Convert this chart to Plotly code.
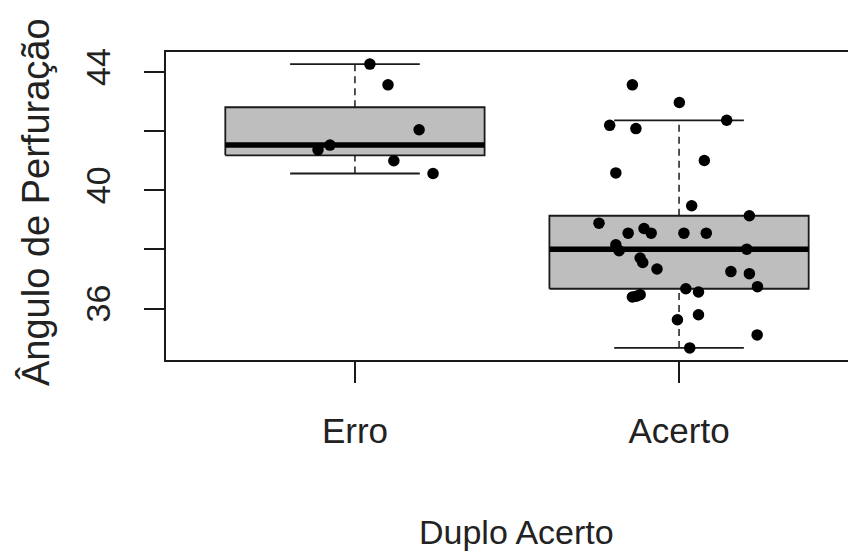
import math
import plotly.graph_objects as go

# ---- data ----
categories = ["Erro", "Acerto"]
erro_values = [44.27, 43.57, 42.05, 41.53, 41.37, 41.00, 40.57]
erro_jitter = [0.046, 0.102, 0.198, -0.077, -0.114, 0.120, 0.241]
acerto_values = [43.57, 42.97, 42.37, 42.20, 42.09, 41.01, 40.59, 39.48, 39.14,
                 38.89, 38.71, 38.55, 38.55, 38.55, 38.55, 38.16, 37.96, 38.01,
                 37.71, 37.56, 37.34, 37.25, 37.18, 36.74, 36.67, 36.56, 36.39,
                 36.47, 36.42, 35.62, 35.79, 35.11, 34.67]
acerto_jitter = [-0.144, 0.001, 0.147, -0.214, -0.133, 0.078, -0.195, 0.039, 0.217,
                 -0.247, -0.108, -0.086, -0.157, 0.015, 0.084, -0.195, -0.185, 0.209,
                 -0.120, -0.112, -0.068, 0.160, 0.217, 0.242, 0.021, 0.060, -0.144,
                 -0.120, -0.132, -0.005, 0.060, 0.241, 0.033]
y_tick_vals = [36, 38, 40, 42, 44]
y_tick_text = ["36", "", "40", "", "44"]
x_title = "Duplo Acerto"
y_title = "Ângulo de Perfuração"

groups = [erro_values, acerto_values]
jitters = [erro_jitter, acerto_jitter]


def fivenum(v):
    x = sorted(v)
    n = len(x)
    n4 = math.floor((n + 3) / 2) / 2
    d = [1, n4, (n + 1) / 2, n + 1 - n4, n]
    return [0.5 * (x[math.floor(di - 1)] + x[math.ceil(di - 1)]) for di in d]


LINE = "#1a1a1a"
BOXW = 0.8
fig = go.Figure()

for i, vals in enumerate(groups):
    p = i + 1
    mn, q1, med, q3, mx = fivenum(vals)
    iqr = q3 - q1
    lo = min(v for v in vals if v >= q1 - 1.5 * iqr)
    hi = max(v for v in vals if v <= q3 + 1.5 * iqr)
    h = BOXW / 2
    # whiskers (dashed)
    for a, b in [(q3, hi), (lo, q1)]:
        fig.add_trace(go.Scatter(x=[p, p], y=[a, b], mode="lines",
                                 line=dict(color=LINE, width=1.5, dash="7px,5px"),
                                 hoverinfo="skip", showlegend=False))
    # staples
    for yv in [hi, lo]:
        fig.add_trace(go.Scatter(x=[p - h / 2, p + h / 2], y=[yv, yv], mode="lines",
                                 line=dict(color=LINE, width=1.8),
                                 hoverinfo="skip", showlegend=False))
    # box
    fig.add_trace(go.Scatter(x=[p - h, p + h, p + h, p - h, p - h],
                             y=[q1, q1, q3, q3, q1], mode="lines", fill="toself",
                             fillcolor="#BEBEBE", line=dict(color=LINE, width=1.8),
                             hoverinfo="skip", showlegend=False))
    # median
    fig.add_trace(go.Scatter(x=[p - h, p + h], y=[med, med], mode="lines",
                             line=dict(color="#000000", width=5.5),
                             hoverinfo="skip", showlegend=False))

for i, (vals, jit) in enumerate(zip(groups, jitters)):
    p = i + 1
    fig.add_trace(go.Scatter(x=[p + j for j in jit], y=vals, mode="markers",
                             marker=dict(color="#000000", size=11.5, line=dict(width=0)),
                             name=categories[i], showlegend=False))

# page has an 8px body margin: layout coordinates = page coordinates - 8
W, H = 848, 545
L, T, B = 158, 44, 545 - 352
PW, PH = W - L, 352 - T

fig.update_layout(
    width=W, height=H,
    margin=dict(l=L, r=0, t=T, b=B, autoexpand=False),
    paper_bgcolor="white", plot_bgcolor="white",
    showlegend=False,
    xaxis=dict(range=[0.417, 2.546], tickvals=[1, 2], ticktext=categories,
               showgrid=False, zeroline=False,
               showline=True, mirror=True, linecolor=LINE, linewidth=1.6,
               ticks="outside", ticklen=21, tickwidth=1.6, tickcolor=LINE,
               ticklabelstandoff=18,
               tickfont=dict(family="Liberation Sans, Arial", size=35, color="#222")),
    yaxis=dict(range=[34.26, 44.68], tickvals=y_tick_vals, ticktext=y_tick_text,
               showgrid=False, zeroline=False,
               showline=True, mirror=False, linecolor=LINE, linewidth=1.6,
               ticks="outside", ticklen=20, tickwidth=1.6, tickcolor=LINE,
               tickangle=-90, ticklabelstandoff=21,
               tickfont=dict(family="Liberation Sans, Arial", size=34, color="#222")),
    annotations=[
        dict(text=x_title, xref="paper", yref="paper", x=(517 - 8 - L) / PW,
             y=-(532 - 8 - 352) / PH,
             xanchor="center", yanchor="middle", showarrow=False,
             font=dict(family="Liberation Sans, Arial", size=34, color="#222")),
        dict(text=y_title, xref="paper", yref="paper", x=-(L - (36 - 8)) / PW,
             y=(352 - (202 - 8)) / PH,
             xanchor="center", yanchor="middle", showarrow=False, textangle=-90,
             font=dict(family="Liberation Sans, Arial", size=38, color="#222")),
    ],
)

fig.write_html("out.html")
